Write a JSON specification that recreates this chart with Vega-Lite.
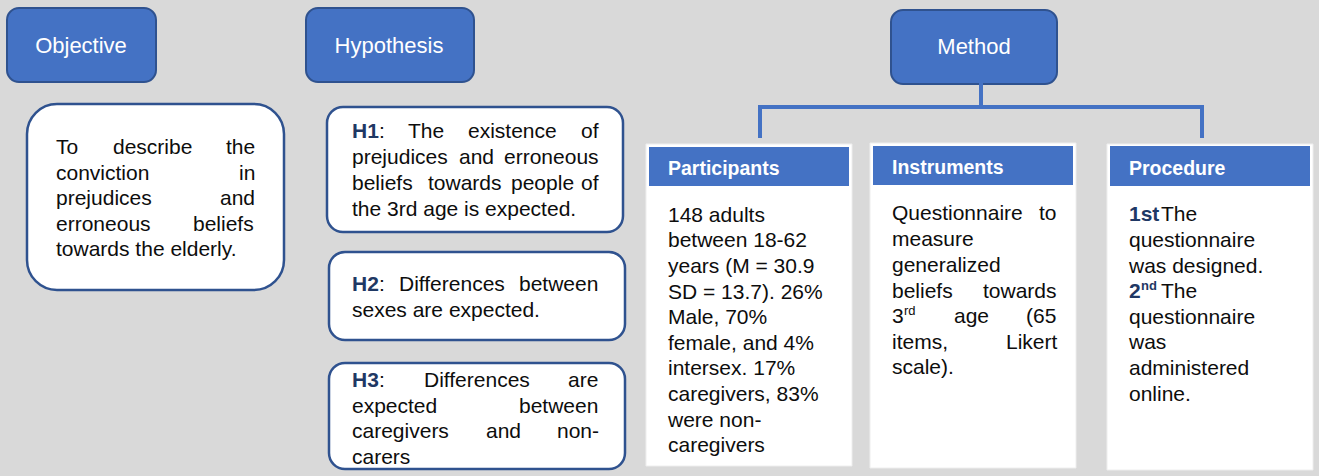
{
  "$schema": "https://vega.github.io/schema/vega-lite/v6.json",
  "width": 1319,
  "height": 476,
  "padding": 0,
  "autosize": {"type": "none"},
  "background": "#d9d9d9",
  "config": {"view": {"stroke": null}},
  "datasets": {
    "boxes": [
      {"id": "Objective", "k": "hdr", "x": 7, "x2": 156, "y": 8, "y2": 82},
      {"id": "Hypothesis", "k": "hdr", "x": 306, "x2": 474, "y": 8, "y2": 82},
      {"id": "Method", "k": "hdr", "x": 891, "x2": 1057, "y": 10, "y2": 84},
      {"id": "ObjBody", "k": "obj", "x": 27, "x2": 284, "y": 104, "y2": 290},
      {"id": "H1", "k": "hyp", "x": 327, "x2": 623, "y": 107, "y2": 232},
      {"id": "H2", "k": "hyp", "x": 329, "x2": 625, "y": 252, "y2": 340},
      {"id": "H3", "k": "hyp", "x": 329, "x2": 625, "y": 363, "y2": 469},
      {"id": "Participants", "k": "card", "x": 646, "x2": 852, "y": 144, "y2": 466},
      {"id": "Instruments", "k": "card", "x": 870, "x2": 1076, "y": 143, "y2": 468},
      {"id": "Procedure", "k": "card", "x": 1107, "x2": 1313, "y": 144, "y2": 470},
      {"id": "ParticipantsBand", "k": "band", "x": 649, "x2": 849, "y": 147, "y2": 186},
      {"id": "InstrumentsBand", "k": "band", "x": 873, "x2": 1073, "y": 146, "y2": 185},
      {"id": "ProcedureBand", "k": "band", "x": 1110, "x2": 1310, "y": 146, "y2": 186}
    ],
    "links": [
      {"x": 981, "x2": 981, "y": 84, "y2": 107},
      {"x": 760, "x2": 1202, "y": 107, "y2": 107},
      {"x": 760, "x2": 760, "y": 107, "y2": 136},
      {"x": 1202, "x2": 1202, "y": 107, "y2": 136}
    ],
    "texts": [
      {"t": "Objective", "k": "hdr", "x": 81, "y": 46},
      {"t": "Hypothesis", "k": "hdr", "x": 389, "y": 46},
      {"t": "Method", "k": "hdr", "x": 974, "y": 47},
      {"t": "Participants", "k": "band", "x": 668, "y": 169},
      {"t": "Instruments", "k": "band", "x": 892, "y": 168},
      {"t": "Procedure", "k": "band", "x": 1129, "y": 169},

      {"t": "To", "k": "body", "x": 56, "y": 148},
      {"t": "describe", "k": "body", "x": 113, "y": 148},
      {"t": "the", "k": "body", "x": 226, "y": 148},
      {"t": "conviction", "k": "body", "x": 56, "y": 174},
      {"t": "in", "k": "body", "x": 239, "y": 174},
      {"t": "prejudices", "k": "body", "x": 56, "y": 199},
      {"t": "and", "k": "body", "x": 220, "y": 199},
      {"t": "erroneous", "k": "body", "x": 56, "y": 225},
      {"t": "beliefs", "k": "body", "x": 193, "y": 225},
      {"t": "towards the elderly.", "k": "body", "x": 56, "y": 250},

      {"t": "H1", "k": "bold", "x": 352, "y": 132},
      {"t": ":", "k": "body", "x": 379, "y": 132},
      {"t": "The", "k": "body", "x": 408, "y": 132},
      {"t": "existence", "k": "body", "x": 468, "y": 132},
      {"t": "of", "k": "body", "x": 581, "y": 132},
      {"t": "prejudices", "k": "body", "x": 352, "y": 158},
      {"t": "and", "k": "body", "x": 459, "y": 158},
      {"t": "erroneous", "k": "body", "x": 504, "y": 158},
      {"t": "beliefs", "k": "body", "x": 352, "y": 184},
      {"t": "towards", "k": "body", "x": 428, "y": 184},
      {"t": "people", "k": "body", "x": 511, "y": 184},
      {"t": "of", "k": "body", "x": 581, "y": 184},
      {"t": "the 3rd age is expected.", "k": "body", "x": 352, "y": 210},

      {"t": "H2", "k": "bold", "x": 352, "y": 285},
      {"t": ":", "k": "body", "x": 379, "y": 285},
      {"t": "Differences", "k": "body", "x": 399, "y": 285},
      {"t": "between", "k": "body", "x": 519, "y": 285},
      {"t": "sexes are expected.", "k": "body", "x": 352, "y": 311},

      {"t": "H3", "k": "bold", "x": 352, "y": 381},
      {"t": ":", "k": "body", "x": 379, "y": 381},
      {"t": "Differences", "k": "body", "x": 424, "y": 381},
      {"t": "are", "k": "body", "x": 568, "y": 381},
      {"t": "expected", "k": "body", "x": 352, "y": 407},
      {"t": "between", "k": "body", "x": 519, "y": 407},
      {"t": "caregivers", "k": "body", "x": 352, "y": 432},
      {"t": "and", "k": "body", "x": 486, "y": 432},
      {"t": "non-", "k": "body", "x": 557, "y": 432},
      {"t": "carers", "k": "body", "x": 352, "y": 458},

      {"t": "148 adults", "k": "body", "x": 668, "y": 216},
      {"t": "between 18-62", "k": "body", "x": 668, "y": 241},
      {"t": "years (M = 30.9", "k": "body", "x": 668, "y": 267},
      {"t": "SD = 13.7). 26%", "k": "body", "x": 668, "y": 293},
      {"t": "Male, 70%", "k": "body", "x": 668, "y": 318},
      {"t": "female, and 4%", "k": "body", "x": 668, "y": 344},
      {"t": "intersex. 17%", "k": "body", "x": 668, "y": 369},
      {"t": "caregivers,  83%", "k": "body", "x": 668, "y": 395},
      {"t": "were non-", "k": "body", "x": 668, "y": 421},
      {"t": "caregivers", "k": "body", "x": 668, "y": 446},

      {"t": "Questionnaire", "k": "body", "x": 892, "y": 214},
      {"t": "to", "k": "body", "x": 1039, "y": 214},
      {"t": "measure", "k": "body", "x": 892, "y": 240},
      {"t": "generalized", "k": "body", "x": 892, "y": 266},
      {"t": "beliefs", "k": "body", "x": 892, "y": 292},
      {"t": "towards", "k": "body", "x": 983, "y": 292},
      {"t": "3", "k": "body", "x": 892, "y": 317},
      {"t": "rd", "k": "sup", "x": 904, "y": 311},
      {"t": "age", "k": "body", "x": 954, "y": 317},
      {"t": "(65", "k": "body", "x": 1026, "y": 317},
      {"t": "items,", "k": "body", "x": 892, "y": 343},
      {"t": "Likert", "k": "body", "x": 1006, "y": 343},
      {"t": "scale).", "k": "body", "x": 892, "y": 368},

      {"t": "1st", "k": "bold", "x": 1129, "y": 215},
      {"t": "The", "k": "body", "x": 1161, "y": 215},
      {"t": "questionnaire", "k": "body", "x": 1129, "y": 241},
      {"t": "was designed.", "k": "body", "x": 1129, "y": 267},
      {"t": "2", "k": "bold", "x": 1129, "y": 292},
      {"t": "nd", "k": "supb", "x": 1141, "y": 286},
      {"t": "The", "k": "body", "x": 1161, "y": 292},
      {"t": "questionnaire", "k": "body", "x": 1129, "y": 318},
      {"t": "was", "k": "body", "x": 1129, "y": 343},
      {"t": "administered", "k": "body", "x": 1129, "y": 369},
      {"t": "online.", "k": "body", "x": 1129, "y": 395}
    ]
  },
  "encoding": {
    "x": {"field": "x", "type": "quantitative", "scale": {"domain": [0, 1319], "nice": false, "zero": false}, "axis": null},
    "y": {"field": "y", "type": "quantitative", "scale": {"domain": [0, 476], "nice": false, "zero": false, "reverse": true}, "axis": null}
  },
  "layer": [
    {
      "data": {"name": "boxes"},
      "transform": [{"filter": "datum.k === 'card'"}],
      "mark": {"type": "rect", "fill": "#ffffff", "stroke": "#eeeeee", "strokeWidth": 1},
      "encoding": {"x2": {"field": "x2"}, "y2": {"field": "y2"}}
    },
    {
      "data": {"name": "boxes"},
      "transform": [{"filter": "datum.k === 'band'"}],
      "mark": {"type": "rect", "fill": "#4472c4"},
      "encoding": {"x2": {"field": "x2"}, "y2": {"field": "y2"}}
    },
    {
      "data": {"name": "boxes"},
      "transform": [{"filter": "datum.k === 'hdr'"}],
      "mark": {"type": "rect", "fill": "#4472c4", "stroke": "#2f528f", "strokeWidth": 2, "cornerRadius": 12},
      "encoding": {"x2": {"field": "x2"}, "y2": {"field": "y2"}}
    },
    {
      "data": {"name": "boxes"},
      "transform": [{"filter": "datum.k === 'obj'"}],
      "mark": {"type": "rect", "fill": "#ffffff", "stroke": "#2f528f", "strokeWidth": 2.5, "cornerRadius": 30},
      "encoding": {"x2": {"field": "x2"}, "y2": {"field": "y2"}}
    },
    {
      "data": {"name": "boxes"},
      "transform": [{"filter": "datum.k === 'hyp'"}],
      "mark": {"type": "rect", "fill": "#ffffff", "stroke": "#2f528f", "strokeWidth": 2.5, "cornerRadius": 16},
      "encoding": {"x2": {"field": "x2"}, "y2": {"field": "y2"}}
    },
    {
      "data": {"name": "links"},
      "mark": {"type": "rule", "stroke": "#4472c4", "strokeWidth": 4, "strokeCap": "square"},
      "encoding": {"x2": {"field": "x2"}, "y2": {"field": "y2"}}
    },
    {
      "data": {"name": "texts"},
      "transform": [{"filter": "datum.k === 'hdr'"}],
      "mark": {"type": "text", "font": "Liberation Sans", "fontSize": 22, "fill": "#ffffff", "align": "center", "baseline": "middle"},
      "encoding": {"text": {"field": "t"}}
    },
    {
      "data": {"name": "texts"},
      "transform": [{"filter": "datum.k === 'band'"}],
      "mark": {"type": "text", "font": "Liberation Sans", "fontSize": 19.5, "fontWeight": "bold", "fill": "#ffffff", "align": "left", "baseline": "middle"},
      "encoding": {"text": {"field": "t"}}
    },
    {
      "data": {"name": "texts"},
      "transform": [{"filter": "datum.k === 'body'"}],
      "mark": {"type": "text", "font": "Liberation Sans", "fontSize": 21, "fill": "#0d0d0d", "align": "left", "baseline": "middle"},
      "encoding": {"text": {"field": "t"}}
    },
    {
      "data": {"name": "texts"},
      "transform": [{"filter": "datum.k === 'bold'"}],
      "mark": {"type": "text", "font": "Liberation Sans", "fontSize": 21, "fontWeight": "bold", "fill": "#1f3864", "align": "left", "baseline": "middle"},
      "encoding": {"text": {"field": "t"}}
    },
    {
      "data": {"name": "texts"},
      "transform": [{"filter": "datum.k === 'sup'"}],
      "mark": {"type": "text", "font": "Liberation Sans", "fontSize": 13, "fill": "#0d0d0d", "align": "left", "baseline": "middle"},
      "encoding": {"text": {"field": "t"}}
    },
    {
      "data": {"name": "texts"},
      "transform": [{"filter": "datum.k === 'supb'"}],
      "mark": {"type": "text", "font": "Liberation Sans", "fontSize": 13, "fontWeight": "bold", "fill": "#1f3864", "align": "left", "baseline": "middle"},
      "encoding": {"text": {"field": "t"}}
    }
  ]
}
